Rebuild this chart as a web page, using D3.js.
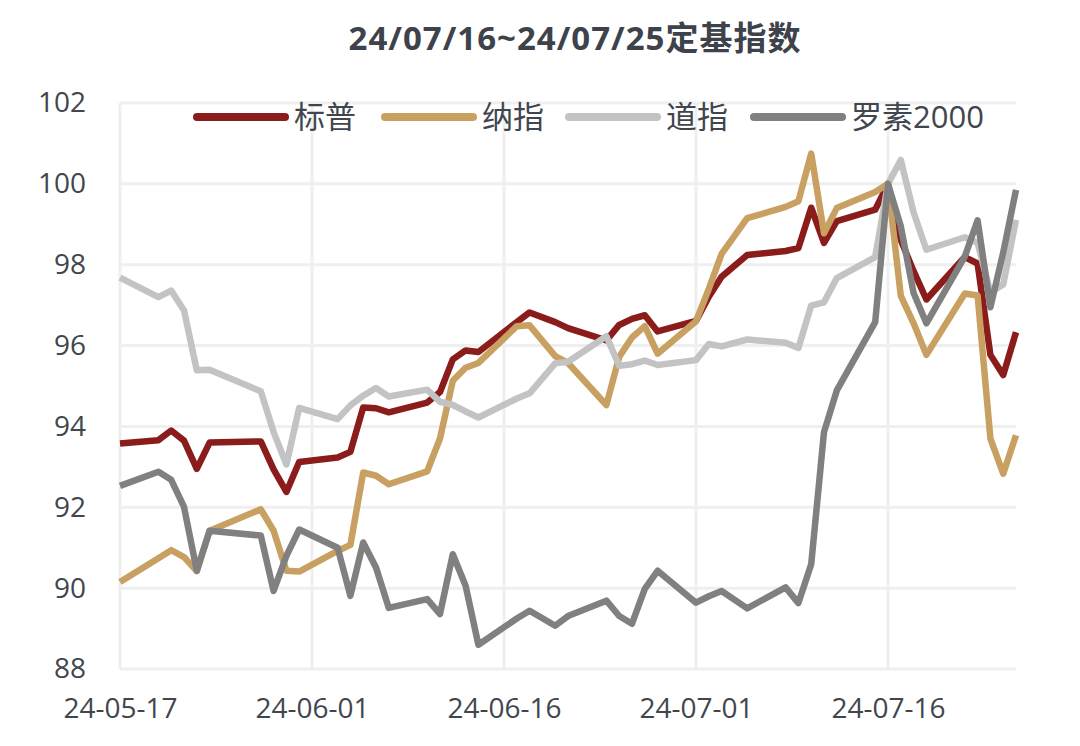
<!DOCTYPE html>
<html>
<head>
<meta charset="utf-8">
<script src="https://cdn.jsdelivr.net/npm/d3@7"></script>
<style>
html,body{margin:0;padding:0;background:#fff;}
svg{display:block;}
text{font-family:"Open Sans","Noto Sans CJK SC",sans-serif;}
</style>
</head>
<body>
<svg id="chart" width="1080" height="746"></svg>
<script>
const title = "24/07/16~24/07/25定基指数";
const dates = ["2024-05-17","2024-05-20","2024-05-21","2024-05-22","2024-05-23","2024-05-24","2024-05-28","2024-05-29","2024-05-30","2024-05-31",
"2024-06-03","2024-06-04","2024-06-05","2024-06-06","2024-06-07","2024-06-10","2024-06-11","2024-06-12","2024-06-13","2024-06-14",
"2024-06-17","2024-06-18","2024-06-20","2024-06-21","2024-06-24","2024-06-25","2024-06-26","2024-06-27","2024-06-28",
"2024-07-01","2024-07-02","2024-07-03","2024-07-05","2024-07-08","2024-07-09","2024-07-10","2024-07-11","2024-07-12",
"2024-07-15","2024-07-16","2024-07-17","2024-07-18","2024-07-19","2024-07-22","2024-07-23","2024-07-24","2024-07-25","2024-07-26"];
const seriesNames = ["标普","纳指","道指","罗素2000"];
const spx = [93.58,93.66,93.90,93.65,92.95,93.60,93.63,92.94,92.38,93.12,
93.23,93.37,94.47,94.45,94.35,94.59,94.85,95.66,95.88,95.84,
96.58,96.82,96.58,96.43,96.13,96.51,96.66,96.75,96.35,
96.61,97.21,97.70,98.24,98.34,98.41,99.41,98.54,99.08,
99.36,100,98.61,97.84,97.14,98.19,98.03,95.77,95.27,96.33];
const ndx = [90.15,90.74,90.94,90.77,90.42,91.42,91.95,91.42,90.43,90.41,
90.92,91.07,92.86,92.78,92.57,92.89,93.70,95.13,95.45,95.57,
96.48,96.50,95.74,95.57,94.53,95.72,96.20,96.48,95.80,
96.60,97.40,98.27,99.15,99.43,99.57,100.75,98.78,99.40,
99.80,100,97.23,96.55,95.77,97.29,97.24,93.70,92.83,93.78];
const dji = [97.68,97.20,97.36,96.87,95.39,95.40,94.87,93.86,93.06,94.46,
94.18,94.52,94.76,94.95,94.74,94.91,94.61,94.53,94.37,94.22,
94.69,94.82,95.56,95.60,96.23,95.50,95.54,95.63,95.52,
95.64,96.04,95.98,96.15,96.07,95.94,96.99,97.07,97.67,
98.19,100,100.59,99.29,98.37,98.68,98.54,97.31,97.51,99.11];
const rut = [92.53,92.88,92.68,92.01,90.43,91.42,91.30,89.93,90.80,91.45,
91.00,89.81,91.13,90.51,89.51,89.73,89.36,90.84,90.06,88.60,
89.25,89.44,89.07,89.31,89.69,89.31,89.12,89.98,90.43,
89.64,89.80,89.93,89.50,90.02,89.63,90.59,93.86,94.89,
96.58,100,98.95,97.30,96.55,98.20,99.10,96.95,98.30,99.85];
const xTickDates = ["2024-05-17","2024-06-01","2024-06-16","2024-07-01","2024-07-16"];
const yTicks = [88,90,92,94,96,98,100,102];
const colors = ["#8b1c1c","#c8a062","#c3c3c3","#808080"];

const parse = d3.timeParse("%Y-%m-%d");
const svg = d3.select("#chart");
const L = 120, R = 1016, T = 103, B = 669;
const x = d3.scaleTime().domain([parse("2024-05-17"), parse("2024-07-26")]).range([L, R]);
const y = d3.scaleLinear().domain([88, 102]).range([B, T]);

// gridlines
const grid = svg.append("g");
grid.selectAll("line.h").data(yTicks).join("line")
  .attr("x1", L).attr("x2", R).attr("y1", d => y(d)).attr("y2", d => y(d))
  .attr("stroke", "#efefef").attr("stroke-width", 3);
grid.selectAll("line.v").data(xTickDates).join("line")
  .attr("x1", d => x(parse(d))).attr("x2", d => x(parse(d))).attr("y1", T).attr("y2", B)
  .attr("stroke", "#efefef").attr("stroke-width", 3);

// axes
const yAxis = d3.axisLeft(y).tickValues(yTicks).tickSize(0).tickPadding(34).tickFormat(d3.format("d"));
const gy = svg.append("g").attr("transform", `translate(${L},0)`).call(yAxis);
gy.select(".domain").remove();
gy.selectAll("text").attr("font-size", 28).attr("fill", "#41464e");

const xAxis = d3.axisBottom(x).tickValues(xTickDates.map(parse)).tickSize(0).tickPadding(29).tickFormat(d3.timeFormat("%y-%m-%d"));
const gx = svg.append("g").attr("transform", `translate(0,${B})`).call(xAxis);
gx.select(".domain").remove();
gx.selectAll("text").attr("font-size", 28).attr("fill", "#41464e");

// lines
const allSeries = [spx, ndx, dji, rut];
const line = d3.line().x((d, i) => x(parse(dates[i]))).y(d => y(d));
svg.append("g").selectAll("path").data(allSeries).join("path")
  .attr("d", d => line(d))
  .attr("fill", "none")
  .attr("stroke", (d, i) => colors[i])
  .attr("stroke-width", 6.5)
  .attr("stroke-linejoin", "round")
  .attr("stroke-linecap", "butt");

// legend
const legendX = [197, 385, 569, 754];
const lg = svg.append("g");
seriesNames.forEach((n, i) => {
  lg.append("line").attr("x1", legendX[i]).attr("x2", legendX[i] + 88)
    .attr("y1", 117).attr("y2", 117)
    .attr("stroke", colors[i]).attr("stroke-width", 8).attr("stroke-linecap", "round");
  lg.append("text").attr("x", legendX[i] + 97).attr("y", 117).attr("dy", "0.36em")
    .attr("font-size", 31).attr("fill", "#41464e").text(n);
});

// title
svg.append("text").attr("x", 575).attr("y", 50).attr("text-anchor", "middle")
  .attr("font-size", 33).attr("font-weight", "bold").attr("letter-spacing", 1).attr("fill", "#3d424b")
  .text(title);
</script>
</body>
</html>
